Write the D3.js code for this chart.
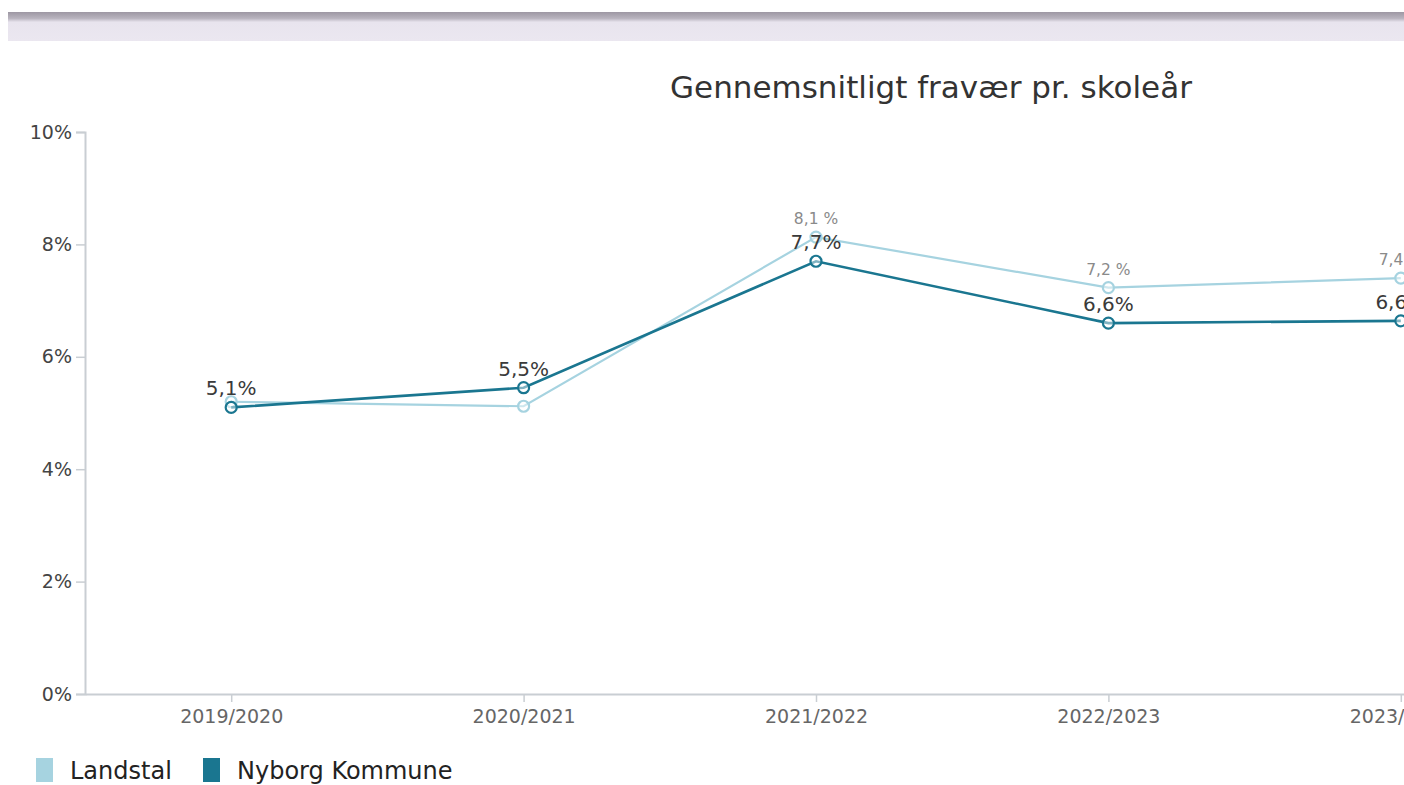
<!DOCTYPE html>
<html>
<head>
    <meta charset="UTF-8">
    <title>Gennemsnitligt fravær pr. skoleår</title>
    <script src="https://cdn.jsdelivr.net/npm/d3@7"></script>
    <style>
        body, html { margin: 0; padding: 0; background: #fff; }
        svg { display: block; }
    </style>
</head>
<body>
    <svg id="chart" width="1404" height="785"></svg>
    <script>
        // data
        var years = ["2019/2020", "2020/2021", "2021/2022", "2022/2023", "2023/2024"];
        var landstal = [5.2, 5.12, 8.13, 7.23, 7.4];
        var nyborg = [5.1, 5.45, 7.7, 6.6, 6.64];
        var landstalLabels = ["", "", "8,1 %", "7,2 %", "7,4 %"];
        var nyborgLabels = ["5,1%", "5,5%", "7,7%", "6,6%", "6,6%"];
        var yTicks = [0, 2, 4, 6, 8, 10];

        var light = "#a6d3e0";
        var dark = "#1a7690";
        var font = "DejaVu Sans, Verdana, sans-serif";

        var svg = d3.select("#chart");

        // grey strip at the top of the screenshot
        var grad = svg.append("defs").append("linearGradient")
            .attr("id", "topbar").attr("x1", 0).attr("x2", 0).attr("y1", 0).attr("y2", 1);
        grad.append("stop").attr("offset", "0%").attr("stop-color", "#9d97a3");
        grad.append("stop").attr("offset", "22%").attr("stop-color", "#b9b4bf");
        grad.append("stop").attr("offset", "35%").attr("stop-color", "#e8e4ee");
        grad.append("stop").attr("offset", "100%").attr("stop-color", "#ebe7f0");
        svg.append("rect").attr("x", 8).attr("y", 12).attr("width", 1396).attr("height", 29)
            .attr("fill", "url(#topbar)");

        svg.append("text")
            .attr("x", 931).attr("y", 98)
            .attr("text-anchor", "middle")
            .attr("font-family", font)
            .attr("font-size", "31px")
            .attr("fill", "#333")
            .text("Gennemsnitligt fravær pr. skoleår");

        var x = d3.scalePoint().domain(years).range([85, 1547]).padding(0.5);
        var y = d3.scaleLinear().domain([0, 10]).range([694, 132]);

        // y axis
        var yAxis = svg.append("g")
            .attr("transform", "translate(85,0)")
            .call(d3.axisLeft(y).tickValues(yTicks).tickSize(9).tickPadding(4)
                .tickFormat(function (d) { return d + "%"; }));
        yAxis.select(".domain").attr("stroke", "#c9ced3").attr("stroke-width", 2);
        yAxis.selectAll(".tick line").attr("stroke", "#c9ced3").attr("stroke-width", 1.5);
        yAxis.selectAll(".tick text").attr("font-family", font).attr("font-size", "19px").attr("fill", "#444");

        // x axis
        var xAxis = svg.append("g")
            .attr("transform", "translate(0,694)")
            .call(d3.axisBottom(x).tickSize(8).tickPadding(8).tickSizeOuter(0));
        xAxis.select(".domain").attr("stroke", "#c9ced3").attr("stroke-width", 2);
        xAxis.selectAll(".tick line").attr("stroke", "#c9ced3").attr("stroke-width", 1.5);
        xAxis.selectAll(".tick text").attr("font-family", font).attr("font-size", "19px").attr("fill", "#666");

        var line = d3.line()
            .x(function (d, i) { return x(years[i]); })
            .y(function (d) { return y(d); });

        function drawSeries(values, color, width) {
            svg.append("path")
                .datum(values)
                .attr("d", line)
                .attr("fill", "none")
                .attr("stroke", color)
                .attr("stroke-width", width);
            svg.selectAll(null)
                .data(values)
                .enter()
                .append("circle")
                .attr("cx", function (d, i) { return x(years[i]); })
                .attr("cy", function (d) { return y(d); })
                .attr("r", 5.5)
                .attr("fill", "rgba(255,255,255,0.45)")
                .attr("stroke", color)
                .attr("stroke-width", 2.2);
        }

        drawSeries(landstal, light, 2.2);
        drawSeries(nyborg, dark, 2.6);

        svg.selectAll(".landstal-label")
            .data(landstal)
            .enter()
            .append("text")
            .attr("class", "landstal-label")
            .attr("x", function (d, i) { return x(years[i]); })
            .attr("y", function (d) { return y(d) - 13; })
            .attr("text-anchor", "middle")
            .attr("font-family", font)
            .attr("font-size", "15.5px")
            .attr("fill", "#8a8a8a")
            .text(function (d, i) { return landstalLabels[i]; });

        svg.selectAll(".nyborg-label")
            .data(nyborg)
            .enter()
            .append("text")
            .attr("class", "nyborg-label")
            .attr("x", function (d, i) { return x(years[i]); })
            .attr("y", function (d) { return y(d) - 12; })
            .attr("text-anchor", "middle")
            .attr("font-family", font)
            .attr("font-size", "20px")
            .attr("fill", "#3a3a3a")
            .text(function (d, i) { return nyborgLabels[i]; });

        // legend
        var legend = [["Landstal", light, 36], ["Nyborg Kommune", dark, 203]];
        legend.forEach(function (l) {
            svg.append("rect").attr("x", l[2]).attr("y", 758).attr("width", 17).attr("height", 24).attr("fill", l[1]);
            svg.append("text").attr("x", l[2] + 34).attr("y", 779)
                .attr("font-family", font).attr("font-size", "24px").attr("fill", "#222")
                .text(l[0]);
        });
    </script>
</body>
</html>
